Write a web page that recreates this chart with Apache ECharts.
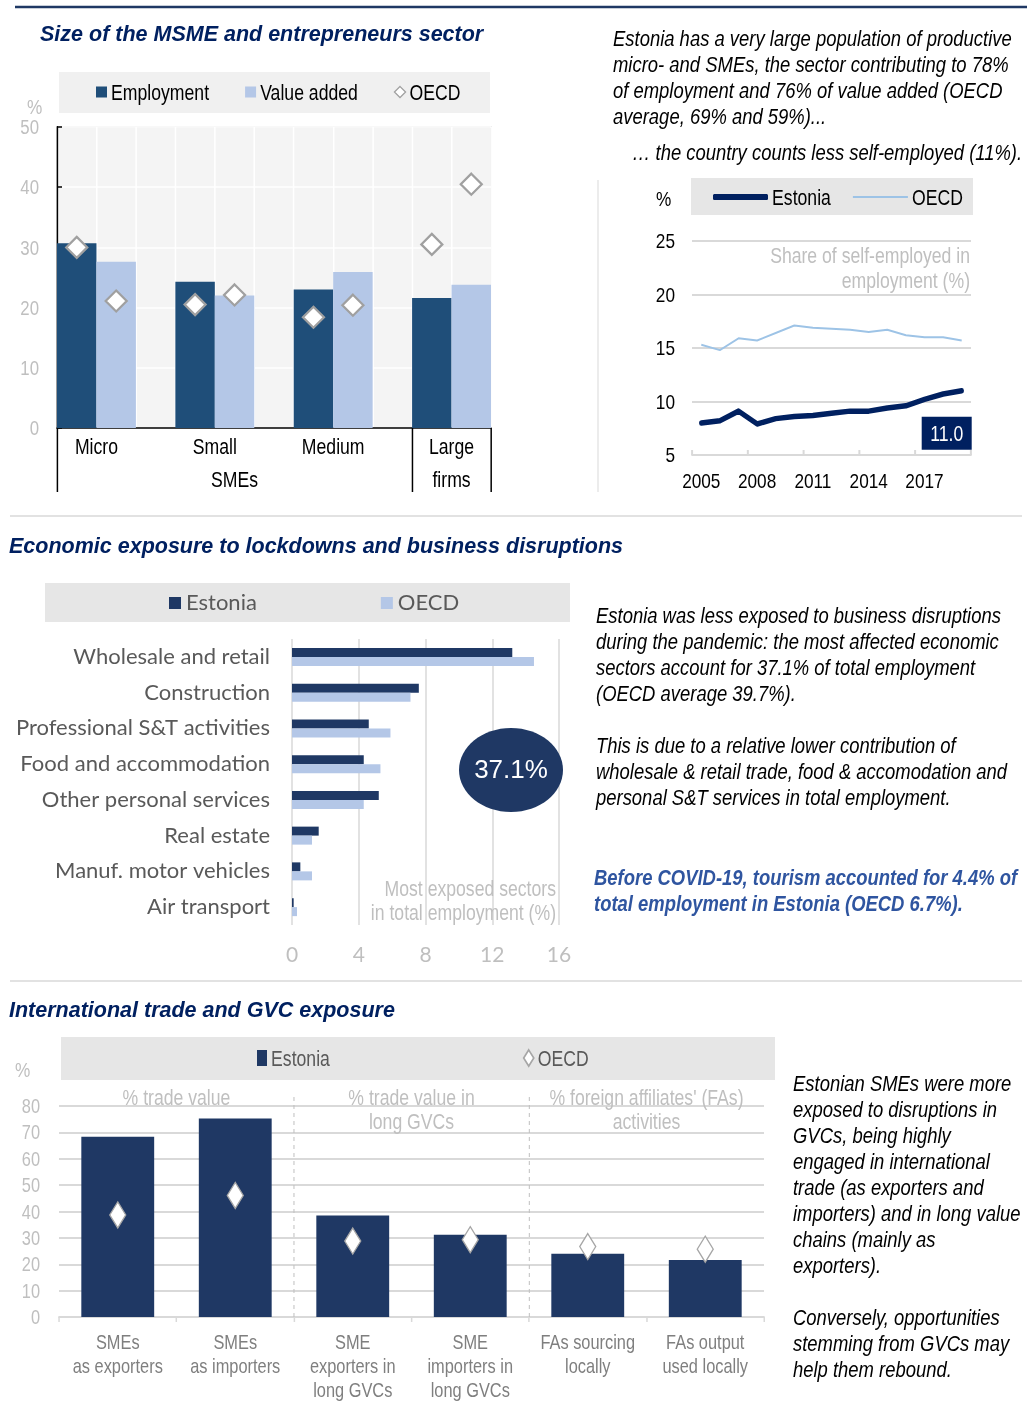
<!DOCTYPE html>
<html>
<head>
<meta charset="utf-8">
<script src="https://cdn.jsdelivr.net/npm/echarts@6/dist/echarts.min.js"></script>
<style>
  html, body { margin: 0; padding: 0; background: #ffffff; overflow: hidden; }
  #page { position: relative; width: 1027px; height: 1407px; }
  #base { position: absolute; left: 0; top: 0; width: 1027px; height: 1407px; }
  /* narrow layer: drawn wide, then compressed horizontally to give an Arial-Narrow look */
  #narrow { position: absolute; left: 0; top: 0; width: 1253px; height: 1407px;
            transform: scaleX(0.82); transform-origin: 0 0; }
</style>
</head>
<body>
<div id="page">
  <div id="base"></div>
  <div id="narrow"></div>
</div>
<script>
// ---------- Size of the MSME and entrepreneurs sector (% of total) ----------
const sizeClasses = ['Micro', 'Small', 'Medium', 'Large'];
const sizeGroups = ['SMEs', 'firms'];
const employment = [30.7, 24.3, 23.0, 21.6];
const valueAdded = [27.6, 22.0, 25.9, 23.8];
const oecdEmployment = [30.0, 20.5, 18.4, 30.5];
const oecdValueAdded = [21.1, 22.1, 20.4, 40.5];

// ---------- Share of self-employed in employment (%) ----------
const years = ['2005', '2006', '2007', '2008', '2009', '2010', '2011', '2012',
               '2013', '2014', '2015', '2016', '2017', '2018', '2019'];
const selfEmpEstonia = [8.0, 8.2, 9.1, 7.9, 8.4, 8.6, 8.7, 8.9, 9.1, 9.1, 9.4, 9.6, 10.2, 10.7, 11.0];
const selfEmpOECD = [15.3, 14.8, 15.9, 15.7, 16.4, 17.1, 16.9, 16.8, 16.7, 16.5, 16.7, 16.2, 16.0, 16.0, 15.7];

// ---------- Most exposed sectors in total employment (%) ----------
const sectors = ['Wholesale and retail', 'Construction', 'Professional S&T activities',
                 'Food and accommodation', 'Other personal services', 'Real estate',
                 'Manuf. motor vehicles', 'Air transport'];
const sectorEstonia = [13.2, 7.6, 4.6, 4.3, 5.2, 1.6, 0.5, 0.1];
const sectorOECD = [14.5, 7.1, 5.9, 5.3, 4.3, 1.2, 1.2, 0.3];

// ---------- International trade and GVC exposure (%) ----------
const gvcCategories = ['SMEs\nas exporters', 'SMEs\nas importers', 'SME\nexporters in\nlong GVCs',
                       'SME\nimporters in\nlong GVCs', 'FAs sourcing\nlocally', 'FAs output\nused locally'];
const gvcGroups = ['% trade value', '% trade value in\nlong GVCs', "% foreign affiliates' (FAs)\nactivities"];
const gvcEstonia = [68.3, 75.3, 38.5, 31.2, 24.0, 21.6];
const gvcOECD = [38.7, 46.1, 28.8, 29.3, 26.7, 25.7];

// ---------- styling ----------
const S = 0.82;              // horizontal compression of the narrow layer
const X = v => v / S;        // page x -> narrow-layer x
const ARIAL = "'Liberation Sans', Arial, sans-serif";
const CALIB = "Lato, 'Open Sans', sans-serif";
const NAVY = '#002060';
const DARK = '#1f3864';
const LIGHT = '#b4c7e7';
const GRID = '#d9d9d9';
const PALE = '#bfbfbf';

// Size-class chart uses 11 slots: two bars per class plus a spacer slot between classes.
const slotCount = sizeClasses.length * 3 - 1;
const slotCats = Array.from({ length: slotCount }, (_, i) => 'slot' + i);
const empSlots = Array(slotCount).fill(null);
const vaSlots = Array(slotCount).fill(null);
const oecdSlots = Array(slotCount).fill(null);
sizeClasses.forEach((_, i) => {
  empSlots[i * 3] = employment[i];
  vaSlots[i * 3 + 1] = valueAdded[i];
  oecdSlots[i * 3] = oecdEmployment[i];
  oecdSlots[i * 3 + 1] = oecdValueAdded[i];
});
const classLabelAt = {};
sizeClasses.forEach((c, i) => { classLabelAt[(i * 3 + 1).toFixed(1)] = c; });
const groupLabelAt = { '4.5': sizeGroups[0], '10.0': sizeGroups[1] };

const exposedTotal = sectorEstonia.reduce((a, b) => a + b, 0);

// text helper for titles, notes and captions
function txt(x, y, text, o) {
  o = o || {};
  return {
    type: 'text', x: x, y: y, z: o.z || 5, silent: true,
    style: {
      text: text,
      fontFamily: o.family || ARIAL,
      fontSize: o.size || 22.5,
      fontStyle: o.italic ? 'italic' : 'normal',
      fontWeight: o.bold ? 'bold' : 'normal',
      fill: o.color || '#000000',
      align: o.align || 'left',
      verticalAlign: 'top',
      lineHeight: o.lh || 26
    }
  };
}
function box(x, y, w, h, fill) {
  return { type: 'rect', z: 0, silent: true, shape: { x: x, y: y, width: w, height: h }, style: { fill: fill } };
}
function hline(x1, x2, y, color, width) {
  return { type: 'line', silent: true, shape: { x1: x1, y1: y, x2: x2, y2: y }, style: { stroke: color, lineWidth: width } };
}
const legendName = n => n.split('|')[0];

// ================= base layer: rules, titles, exposed-sector chart =================
const base = echarts.init(document.getElementById('base'), null, { renderer: 'canvas' });
base.setOption({
  backgroundColor: '#ffffff',
  animation: false,
  grid: [{ left: 292, top: 639, width: 267, height: 286 }],
  xAxis: [{ type: 'value', min: 0, max: 16, interval: 4,
    axisLine: { show: false }, axisTick: { show: false },
    axisLabel: { margin: 20, fontFamily: CALIB, fontSize: 21, color: PALE },
    splitLine: { lineStyle: { color: GRID, width: 1.5 } } }],
  yAxis: [{ type: 'category', data: sectors, inverse: true,
    axisLine: { show: false }, axisTick: { show: false },
    axisLabel: { margin: 22, fontFamily: CALIB, fontSize: 22, color: '#595959' } }],
  legend: [{ left: 169, top: 592, padding: 0, itemGap: 124, itemWidth: 12, itemHeight: 12,
    formatter: legendName,
    textStyle: { fontFamily: CALIB, fontSize: 22, color: '#595959' },
    data: [{ name: 'Estonia|sector', icon: 'rect' }, { name: 'OECD|sector', icon: 'rect' }] }],
  series: [
    { name: 'Estonia|sector', type: 'bar', data: sectorEstonia, barWidth: 9, barGap: '0%', itemStyle: { color: DARK } },
    { name: 'OECD|sector', type: 'bar', data: sectorOECD, barWidth: 9, barGap: '0%', itemStyle: { color: LIGHT } }
  ],
  graphic: [
    hline(15, 1027, 7, '#1f3864', 2.5),
    hline(10, 1022, 516, GRID, 1.5),
    hline(10, 1022, 981, GRID, 1.5),
    { type: 'line', silent: true, shape: { x1: 598, y1: 180, x2: 598, y2: 492 }, style: { stroke: GRID, lineWidth: 1 } },

    box(59, 72, 431, 41, '#f0f0f0'),
    box(691, 178, 282, 37, '#e6e6e6'),
    box(45, 583, 525, 39, '#e6e6e6'),
    box(61, 1037, 714, 43, '#e6e6e6'),

    txt(40, 22, 'Size of the MSME and entrepreneurs sector', { size: 21.5, bold: true, italic: true, color: NAVY }),
    txt(9, 534, 'Economic exposure to lockdowns and business disruptions', { size: 21.5, bold: true, italic: true, color: NAVY }),
    txt(9, 998, 'International trade and GVC exposure', { size: 21.5, bold: true, italic: true, color: NAVY }),

    { type: 'ellipse', z: 10, silent: true, shape: { cx: 511, cy: 770, rx: 52, ry: 42 }, style: { fill: DARK } },
    { type: 'text', z: 11, silent: true, x: 511, y: 771,
      style: { text: exposedTotal.toFixed(1) + '%', fontFamily: ARIAL, fontSize: 26, fill: '#ffffff', align: 'center', verticalAlign: 'middle' } }
  ]
});

// ================= narrow layer: size, self-employment and GVC charts, commentary =================
const narrow = echarts.init(document.getElementById('narrow'), null, { renderer: 'svg' });
narrow.setOption({
  backgroundColor: 'transparent',
  animation: false,
  textStyle: { fontFamily: ARIAL },
  grid: [
    { left: X(57), top: 127, width: X(434), height: 301, show: true, backgroundColor: '#f4f4f4', borderColor: GRID, borderWidth: 1.5 },
    { left: X(692), top: 241, width: X(279), height: 214 },
    { left: X(59), top: 1106, width: X(705), height: 211 }
  ],
  xAxis: [
    // 0: size-class slots
    { type: 'category', gridIndex: 0, data: slotCats, boundaryGap: true,
      axisLine: { lineStyle: { color: '#000000', width: 1.5 } },
      axisTick: { show: false }, axisLabel: { show: false },
      splitLine: { show: true, interval: 0, lineStyle: { color: '#ffffff', width: X(1.5) } } },
    // 1: size-class names and group dividers
    { type: 'value', gridIndex: 0, min: 0, max: slotCount, position: 'bottom',
      axisLine: { show: false }, splitLine: { show: false },
      axisTick: { show: true, customValues: [0, 9, slotCount], length: 64, lineStyle: { color: '#000000', width: X(1.5) } },
      axisLabel: { show: true, customValues: sizeClasses.map((_, i) => i * 3 + 1), margin: 7,
        formatter: v => classLabelAt[Number(v).toFixed(1)] || '',
        fontFamily: ARIAL, fontSize: 21.5, color: '#000000' } },
    // 2: second row of group names
    { type: 'value', gridIndex: 0, min: 0, max: slotCount, position: 'bottom', offset: 32,
      axisLine: { show: false }, splitLine: { show: false }, axisTick: { show: false },
      axisLabel: { show: true, customValues: [4.5, 10], margin: 8,
        formatter: v => groupLabelAt[Number(v).toFixed(1)] || '',
        fontFamily: ARIAL, fontSize: 21.5, color: '#000000' } },
    // 3: years
    { type: 'category', gridIndex: 1, data: years, boundaryGap: true,
      axisLine: { lineStyle: { color: GRID, width: 2 } },
      axisTick: { show: true, interval: 2, inside: true, length: 5, lineStyle: { color: GRID, width: X(2) } },
      axisLabel: { interval: 2, margin: 15, fontFamily: ARIAL, fontSize: 21, color: '#000000' } },
    // 4: GVC categories
    { type: 'category', gridIndex: 2, data: gvcCategories, boundaryGap: true,
      axisLine: { lineStyle: { color: GRID, width: 2 } },
      axisTick: { show: true, length: 5, lineStyle: { color: GRID, width: X(1.5) } },
      axisLabel: { interval: 0, margin: 13, fontFamily: ARIAL, fontSize: 20, lineHeight: 24, color: '#7f7f7f' } },
    // 5: dashed dividers between GVC groups
    { type: 'value', gridIndex: 2, min: 0, max: 6, position: 'bottom',
      axisLine: { show: false }, splitLine: { show: false }, axisLabel: { show: false },
      axisTick: { show: true, customValues: [2, 4], inside: true, length: 220, lineStyle: { color: PALE, width: X(1), type: [4, 4] } } },
    // 6: GVC group captions
    { type: 'value', gridIndex: 2, min: 0, max: 6, position: 'top',
      axisLine: { show: false }, splitLine: { show: false }, axisTick: { show: false },
      axisLabel: { show: true, customValues: [1, 3, 5], margin: 21, verticalAlign: 'top',
        formatter: v => gvcGroups[Math.round((v - 1) / 2)] || '',
        fontFamily: ARIAL, fontSize: 21.5, lineHeight: 24, color: PALE } }
  ],
  yAxis: [
    { type: 'value', gridIndex: 0, min: 0, max: 50, interval: 10,
      axisLine: { show: true, lineStyle: { color: '#000000', width: X(1.5) } },
      axisTick: { show: true, inside: true, length: X(5), lineStyle: { color: '#000000', width: 1.5 } },
      axisLabel: { margin: X(18), fontFamily: ARIAL, fontSize: 20.5, color: PALE },
      splitLine: { lineStyle: { color: '#ffffff', width: 1.5 } } },
    { type: 'value', gridIndex: 1, min: 5, max: 25, interval: 5,
      axisLine: { show: false }, axisTick: { show: false },
      axisLabel: { margin: X(17), fontFamily: ARIAL, fontSize: 21, color: '#000000' },
      splitLine: { lineStyle: { color: GRID, width: 2 } } },
    { type: 'value', gridIndex: 2, min: 0, max: 80, interval: 10,
      axisLine: { show: false }, axisTick: { show: false },
      axisLabel: { margin: X(19), fontFamily: ARIAL, fontSize: 20, color: PALE },
      splitLine: { lineStyle: { color: GRID, width: 2 } } }
  ],
  legend: [
    { left: X(96), top: 81, padding: 0, itemGap: X(36), itemWidth: X(11), itemHeight: 11,
      formatter: legendName,
      textStyle: { fontFamily: ARIAL, fontSize: 21.5, color: '#000000' },
      data: [{ name: 'Employment|size', icon: 'rect' }, { name: 'Value added|size', icon: 'rect' },
             { name: 'OECD|size', icon: 'diamond', itemStyle: { borderWidth: 1.5 } }] },
    { left: X(713), top: 186, padding: 0, itemGap: X(22), itemWidth: X(55), itemHeight: 6,
      symbolKeepAspect: false,
      formatter: legendName,
      textStyle: { fontFamily: ARIAL, fontSize: 21.5, color: '#000000' },
      data: [{ name: 'Estonia|self', icon: 'roundRect' },
             { name: 'OECD|self', icon: 'path://M0,0L0,0M0,2L10,2L10,4L0,4ZM0,6L0,6' }] },
    { left: X(257), top: 1047, padding: 0, itemGap: X(193), itemWidth: X(10), itemHeight: 16,
      formatter: legendName,
      textStyle: { fontFamily: ARIAL, fontSize: 21.5, color: '#595959' },
      data: [{ name: 'Estonia|gvc', icon: 'rect' }, { name: 'OECD|gvc', icon: 'diamond' }] }
  ],
  series: [
    { name: 'Employment|size', type: 'bar', xAxisIndex: 0, yAxisIndex: 0, data: empSlots,
      barWidth: '100%', barGap: '-100%', itemStyle: { color: '#1f4e79' } },
    { name: 'Value added|size', type: 'bar', xAxisIndex: 0, yAxisIndex: 0, data: vaSlots,
      barWidth: '100%', barGap: '-100%', itemStyle: { color: LIGHT } },
    { name: 'OECD|size', type: 'scatter', xAxisIndex: 0, yAxisIndex: 0, data: oecdSlots, z: 5,
      symbol: 'diamond', symbolSize: [X(21), 21],
      itemStyle: { color: '#ffffff', opacity: 1, borderColor: '#a0a0a0', borderWidth: 2.5 } },

    { name: 'Estonia|self', type: 'line', xAxisIndex: 3, yAxisIndex: 1, data: selfEmpEstonia,
      symbol: 'none', z: 4, lineStyle: { color: NAVY, width: 5.5, cap: 'round', join: 'round' },
      itemStyle: { color: NAVY },
      endLabel: { show: true, formatter: p => Number(p.value).toFixed(1),
        distance: 0, align: 'center', verticalAlign: 'top', offset: [X(-15), 26],
        backgroundColor: NAVY, color: '#ffffff', padding: [6, X(8.5), 5, X(8.5)],
        fontFamily: ARIAL, fontSize: 21.5 } },
    { name: 'OECD|self', type: 'line', xAxisIndex: 3, yAxisIndex: 1, data: selfEmpOECD,
      symbol: 'none', lineStyle: { color: '#9dc3e6', width: 2 }, itemStyle: { color: '#9dc3e6' } },

    { name: 'Estonia|gvc', type: 'bar', xAxisIndex: 4, yAxisIndex: 2, data: gvcEstonia,
      barCategoryGap: '38%', itemStyle: { color: DARK } },
    { name: 'OECD|gvc', type: 'scatter', xAxisIndex: 4, yAxisIndex: 2, data: gvcOECD, z: 5,
      symbol: 'diamond', symbolSize: [X(16), 26],
      itemStyle: { color: '#ffffff', opacity: 1, borderColor: '#a6a6a6', borderWidth: 1.5 } }
  ],
  graphic: [
    // unit marks
    txt(X(27), 94, '%', { size: 21, color: PALE }),
    txt(X(656), 186, '%', { size: 21, color: '#000000' }),
    txt(X(15), 1057, '%', { size: 21, color: PALE }),

    // in-chart captions
    txt(X(970), 243, 'Share of self-employed in\nemployment (%)', { size: 21.5, align: 'right', lh: 25, color: PALE }),
    txt(X(556), 876, 'Most exposed sectors\nin total employment (%)', { size: 21.5, align: 'right', lh: 24, color: PALE }),

    // commentary
    txt(X(613), 25, 'Estonia has a very large population of productive\nmicro- and SMEs, the sector contributing to 78%\nof employment and 76% of value added (OECD\naverage, 69% and 59%)...', { italic: true }),
    txt(X(632), 139, '\u2026 the country counts less self-employed (11%).', { italic: true }),
    txt(X(596), 602, 'Estonia was less exposed to business disruptions\nduring the pandemic: the most affected economic\nsectors account for 37.1% of total employment\n(OECD average 39.7%).', { italic: true }),
    txt(X(596), 732, 'This is due to a relative lower contribution of\nwholesale & retail trade, food & accomodation and\npersonal S&T services in total employment.', { italic: true }),
    txt(X(594), 864, 'Before COVID-19, tourism accounted for 4.4% of\ntotal employment in Estonia (OECD 6.7%).', { italic: true, bold: true, color: '#2f55a0' }),
    txt(X(793), 1070, 'Estonian SMEs were more\nexposed to disruptions in\nGVCs, being highly\nengaged in international\ntrade (as exporters and\nimporters) and in long value\nchains (mainly as\nexporters).\n\nConversely, opportunities\nstemming from GVCs may\nhelp them rebound.', { italic: true })
  ]
});
</script>
</body>
</html>
